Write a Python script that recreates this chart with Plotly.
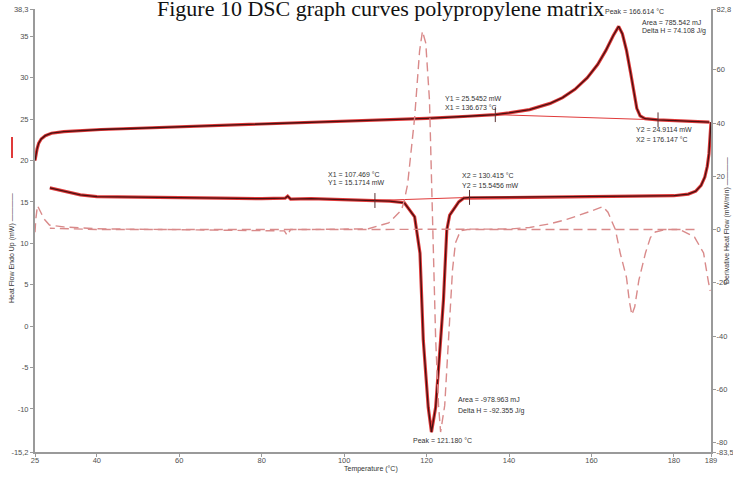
import plotly.graph_objects as go

# ---------------- data ----------------
heat_T = [25.0, 25.2, 25.5, 25.9, 26.5, 27.5, 29.0, 32.0, 36.0, 41.0, 50.0, 65.0, 80.0, 90.0,
          105.0, 120.0, 130.0, 136.7, 140.0, 145.0, 150.0, 153.0, 156.0, 159.0, 161.5, 163.5,
          165.3, 166.6, 167.5, 168.5, 169.5, 170.3, 171.0, 171.8, 173.0, 176.1, 180.0, 185.0, 188.6]
heat_Q = [20.0, 20.6, 21.4, 22.1, 22.6, 23.0, 23.3, 23.5, 23.65, 23.75, 23.9, 24.15, 24.4, 24.55,
          24.85, 25.1, 25.35, 25.55, 25.75, 26.15, 26.9, 27.6, 28.6, 30.0, 31.6, 33.3,
          35.1, 36.2, 35.3, 33.3, 30.6, 28.0, 26.3, 25.4, 25.05, 24.91, 24.85, 24.75, 24.65]

cool_T = [189.0, 188.9, 188.75, 188.5, 188.1, 187.5, 186.6, 185.3, 183.5, 180.0, 170.0, 160.0,
          150.0, 140.0, 130.4, 129.0, 127.8, 127.0, 125.6, 124.9, 124.1, 123.4, 122.2, 121.18,
          120.4, 119.2, 118.8, 118.4, 117.1, 114.6, 111.0, 107.5, 100.0, 92.0, 87.0, 86.3, 85.7,
          80.0, 70.0, 60.0, 50.0, 40.0, 36.0, 32.0, 28.6]
cool_Q = [24.65, 23.8, 22.3, 20.8, 19.3, 18.0, 17.0, 16.3, 15.95, 15.75, 15.7, 15.65,
          15.6, 15.58, 15.55, 15.45, 15.0, 14.4, 13.4, 11.6, 3.2, -1.7, -9.8, -12.8,
          -9.8, -1.7, 3.2, 8.8, 13.2, 14.9, 15.1, 15.17, 15.3, 15.4, 15.35, 15.7, 15.45,
          15.4, 15.45, 15.5, 15.55, 15.65, 15.85, 16.3, 16.7]

dheat_T = [25.0, 25.2, 25.6, 26.2, 27.2, 28.5, 32.0, 40.0, 60.0, 80.0, 85.5, 86.2, 87.0, 100.0,
           120.0, 140.0, 145.0, 150.0, 154.0, 158.0, 160.0, 162.8, 164.0, 165.8, 167.0, 168.5,
           169.2, 169.8, 170.5, 171.5, 173.1, 174.3, 175.5, 178.0, 181.5, 185.0, 187.2, 188.3, 188.8]
dheat_D = [-1.0, 4.0, 9.0, 7.0, 4.0, 1.7, 1.0, 0.3, 0.0, -0.3, -0.5, -2.2, 0.0, 0.0,
           0.0, 0.2, 0.8, 2.2, 3.8, 5.8, 7.0, 8.6, 6.5, 0.0, -9.0, -18.0,
           -27.0, -32.0, -29.0, -19.0, -8.8, -3.0, -0.9, 0.0, 0.0, -2.8, -8.8, -19.0, -23.0]

dcool_T = [185.0, 170.0, 150.0, 129.9, 128.2, 127.0, 126.3, 125.3, 124.4, 123.4, 122.9, 122.2,
           121.6, 121.2, 120.7, 119.8, 119.0, 118.3, 117.1, 115.4, 114.6, 113.9, 110.8, 105.9,
           90.0, 60.0, 40.0, 28.6]
dcool_D = [0.0, 0.0, 0.0, 0.0, -0.5, -5.0, -15.0, -41.0, -66.0, -76.0, -66.0, -41.0,
           -3.9, 23.5, 48.6, 70.0, 74.5, 67.0, 42.0, 17.0, 11.0, 7.3, 2.5, 0.3,
           0.0, 0.0, 0.0, 0.5]

# integration baselines (start / end points)
base_heat_T = [136.673, 176.147]
base_heat_Q = [25.5452, 24.9114]
base_cool_T = [107.469, 130.415]
base_cool_Q = [15.1714, 15.5456]

x_ticks = [25, 40, 60, 80, 100, 120, 140, 160, 180, 189]
y_ticks = [38.3, 35, 30, 25, 20, 15, 10, 5, 0, -5, -10, -15.2]
y_ticktext = ["38,3", "35", "30", "25", "20", "15", "10", "5", "0", "-5", "-10", "-15,2"]
y2_ticks = [82.8, 60, 40, 20, 0, -20, -40, -60, -80, -83.5]
y2_ticktext = ["82,8", "60", "40", "20", "0", "-20", "-40", "-60", "-80", "-83,5"]

# ---------------- figure ----------------
W, H = 733, 477
ML, MR, MT, MB = 35, 22, 9, 25
PW, PH = W - ML - MR, H - MT - MB

def px(xp):
    return (xp - ML) / PW

def py(yp):
    return 1 - (yp - MT) / PH

fig = go.Figure()

DASH = "#d98a8a"
RED = "#e03a3a"
DARK = "#4a1010"

# derivative curves (right axis)
for T, D in [(dheat_T, dheat_D), (dcool_T, dcool_D)]:
    fig.add_trace(go.Scatter(x=T, y=D, yaxis="y2", mode="lines",
                             line=dict(color=DASH, width=1.4, dash="9px,5px"),
                             hoverinfo="skip", showlegend=False))

# baselines
for T, Q in [(base_heat_T, base_heat_Q), (base_cool_T, base_cool_Q)]:
    fig.add_trace(go.Scatter(x=T, y=Q, mode="lines", line=dict(color=RED, width=1),
                             hoverinfo="skip", showlegend=False))

# heat flow curves: red halo + dark core
for T, Q in [(heat_T, heat_Q), (cool_T, cool_Q)]:
    fig.add_trace(go.Scatter(x=T, y=Q, mode="lines", line=dict(color=RED, width=3.2),
                             hoverinfo="skip", showlegend=False))
for T, Q in [(heat_T, heat_Q), (cool_T, cool_Q)]:
    fig.add_trace(go.Scatter(x=T, y=Q, mode="lines", line=dict(color=DARK, width=1.3),
                             hoverinfo="skip", showlegend=False))

# small vertical marks at the baseline limits
for T, Q in [(base_heat_T, base_heat_Q), (base_cool_T, base_cool_Q)]:
    for t, q in zip(T, Q):
        fig.add_trace(go.Scatter(x=[t, t], y=[q - 0.9, q + 0.9], mode="lines",
                                 line=dict(color="#5a3030", width=1),
                                 hoverinfo="skip", showlegend=False))

axis_common = dict(showgrid=False, zeroline=False, showline=True, linecolor="#9a9a9a",
                   linewidth=2, ticks="outside", ticklen=3, tickcolor="#9a9a9a",
                   automargin=False,
                   tickfont=dict(family="Liberation Sans, Arial", size=7.5, color="#505050"))

fig.update_layout(
    width=W, height=H, autosize=False,
    margin=dict(l=ML, r=MR, t=MT, b=MB, pad=0),
    paper_bgcolor="white", plot_bgcolor="white",
    showlegend=False, hovermode=False,
    xaxis=dict(range=[25, 189], tickvals=x_ticks, ticktext=[str(v) for v in x_ticks],
               ticklabelstandoff=-3, **axis_common),
    yaxis=dict(range=[-15.2, 38.3], tickvals=y_ticks, ticktext=y_ticktext, **axis_common),
    yaxis2=dict(range=[-83.5, 82.8], tickvals=y2_ticks, ticktext=y2_ticktext,
                overlaying="y", side="right", ticklabelstandoff=-1, **axis_common),
)

ann_font = dict(family="Liberation Sans, Arial", size=7, color="#333333")
labels = [
    ("Peak = 166.614 °C", 603, 11),
    ("Area = 785.542 mJ", 640, 22),
    ("Delta H = 74.108 J/g", 640, 31),
    ("Y1 = 25.5452 mW", 443, 98),
    ("X1 = 136.673 °C", 443, 107),
    ("Y2 = 24.9114 mW", 634, 129),
    ("X2 = 176.147 °C", 634, 139),
    ("X1 = 107.469 °C", 326, 174),
    ("Y1 = 15.1714 mW", 326, 183),
    ("X2 = 130.415 °C", 460, 176),
    ("Y2 = 15.5456 mW", 460, 185),
    ("Area = -978.963 mJ", 456, 399),
    ("Delta H = -92.355 J/g", 456, 411),
    ("Peak = 121.180 °C", 411, 440),
]
for text, xp, yp in labels:
    fig.add_annotation(text=text, xref="paper", yref="paper", x=px(xp), y=py(yp),
                       xanchor="left", yanchor="middle", showarrow=False, font=ann_font)

# title (partly cut at the top of the image)
fig.add_annotation(text="Figure 10 DSC graph curves polypropylene matrix",
                   xref="paper", yref="paper", x=px(381), y=py(8), xanchor="center",
                   yanchor="middle", showarrow=False,
                   font=dict(family="Liberation Serif, Times New Roman", size=22, color="#111111"))

# axis titles
fig.add_annotation(text="Temperature (°C)", xref="paper", yref="paper", x=px(371), y=py(469),
                   xanchor="center", yanchor="middle", showarrow=False,
                   font=dict(family="Liberation Sans, Arial", size=7, color="#333333"))
fig.add_annotation(text="Heat Flow Endo Up (mW) ————", xref="paper", yref="paper",
                   x=px(12), y=py(248), xanchor="center", yanchor="middle", textangle=-90,
                   showarrow=False, font=dict(family="Liberation Sans, Arial", size=7, color="#333333"))
fig.add_annotation(text="Derivative Heat Flow (mW/min) ————", xref="paper", yref="paper",
                   x=px(727), y=py(220), xanchor="center", yanchor="middle", textangle=-90,
                   showarrow=False, font=dict(family="Liberation Sans, Arial", size=7, color="#333333"))
# red legend tick next to the left title
fig.add_shape(type="line", xref="paper", yref="paper", x0=px(12), x1=px(12), y0=py(137), y1=py(158),
              line=dict(color=RED, width=2))

fig.write_html("out.html",
               config={"displayModeBar": False, "responsive": False, "staticPlot": True},
               post_script="document.body.style.margin='0';"
                           "document.body.style.overflow='hidden';"
                           "document.documentElement.style.overflow='hidden';")
